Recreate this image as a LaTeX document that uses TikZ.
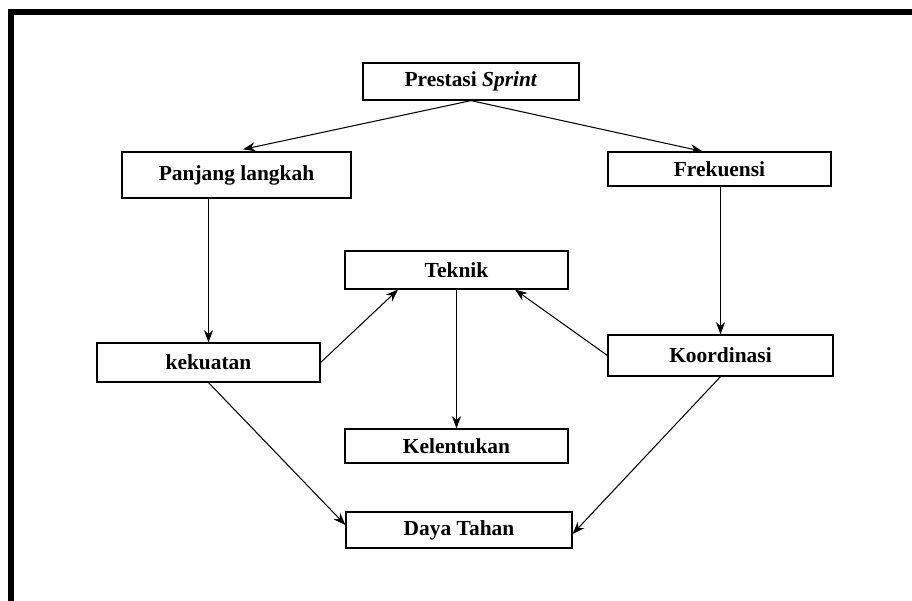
\documentclass[tikz,border=0pt]{standalone}
\usepackage{fontspec}
\setmainfont{Liberation Serif}
\usetikzlibrary{calc, arrows.meta}

\begin{document}
\begin{tikzpicture}[>={Stealth[length=7pt, width=5.2pt]}, x=0.02cm, y=-0.02cm,
  kotak/.style={draw, line width=0.7pt, inner sep=0pt, align=center,
    font=\bfseries\fontsize{12.2}{14}\selectfont},
  panah/.style={->, line width=0.6pt}]

\useasboundingbox (0,0) rectangle (912,601);
\fill [white] (0,0) rectangle (912,601);
\draw [line width=3.4pt, line cap=butt, line join=miter] (11,601) -- (11,12) -- (912,12);

\node [kotak, minimum width=4.32cm, minimum height=0.74cm] (ps) at (471,81.5) {Prestasi \textit{Sprint}};
\node [kotak, minimum width=4.58cm, minimum height=0.92cm] (pl) at (236.5,175) {Panjang langkah};
\node [kotak, minimum width=4.46cm, minimum height=0.68cm] (fk) at (719.5,169) {Frekuensi};
\node [kotak, minimum width=4.46cm, minimum height=0.76cm] (tk) at (456.5,270) {Teknik};
\node [kotak, minimum width=4.46cm, minimum height=0.78cm] (kk) at (208.5,362.5) {kekuatan};
\node [kotak, minimum width=4.50cm, minimum height=0.82cm] (ko) at (720.5,355.5) {Koordinasi};
\node [kotak, minimum width=4.46cm, minimum height=0.68cm] (kl) at (456.5,446) {Kelentukan};
\node [kotak, minimum width=4.52cm, minimum height=0.72cm] (dt) at (459,530) {Daya Tahan};

\draw [panah] (ps.south) -- ($(pl.north)+(6.5,-2)$);
\draw [panah] (ps.south) -- ($(fk.north)+(-17,0)$);
\draw [panah] (pl.south -| kk.north) -- (kk.north);
\draw [panah] (fk.south -| ko.north) -- (ko.north);
\draw [panah] (kk.east) -- ($(tk.south)+(-58.5,0)$);
\draw [panah] (ko.west) -- ($(tk.south)+(58.5,0)$);
\draw [panah] (tk.south) -- (kl.north);
\draw [panah] (kk.south) -- ($(dt.west)+(0,-5)$);
\draw [panah] (ko.south) -- ($(dt.east)+(0,4)$);

\end{tikzpicture}
\end{document}
